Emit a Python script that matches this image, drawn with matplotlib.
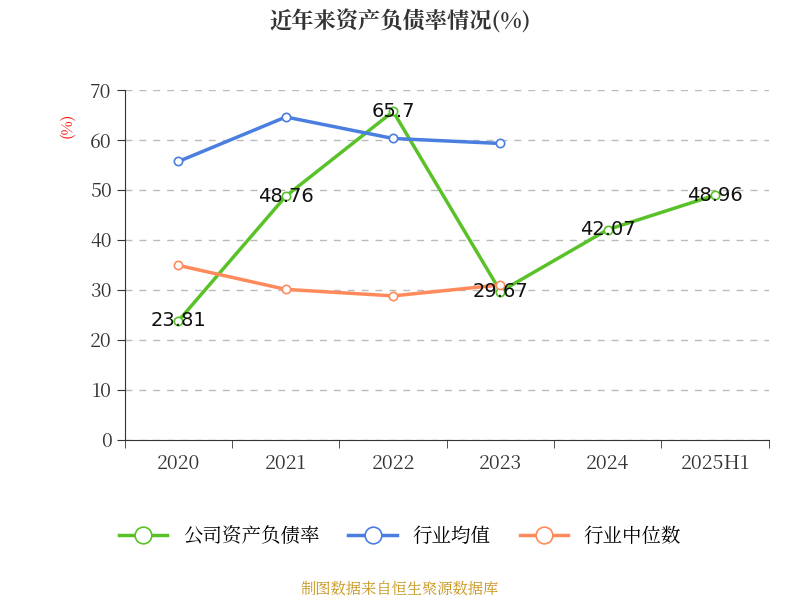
import glob
import numpy as np
import matplotlib
matplotlib.use("Agg")
import matplotlib.pyplot as plt
from matplotlib import font_manager as fm

# make sure a CJK font is registered
for path in glob.glob("/usr/share/fonts/**/*CJK*", recursive=True):
    try:
        fm.fontManager.addfont(path)
    except Exception:
        pass
cjk = [f.name for f in fm.fontManager.ttflist if "CJK" in f.name]
cjk_name = "Noto Sans CJK SC" if "Noto Sans CJK SC" in cjk else (cjk[0] if cjk else "DejaVu Sans")
plt.rcParams["font.family"] = "sans-serif"
plt.rcParams["font.sans-serif"] = [cjk_name, "DejaVu Sans"]

categories = ["2020", "2021", "2022", "2023", "2024", "2025H1"]
company = [23.81, 48.76, 65.7, 29.67, 42.07, 48.96]
industry_avg = [55.7, 64.6, 60.3, 59.3]
industry_median = [34.9, 30.1, 28.8, 31.0]

green = "#5ac229"
blue = "#4a7fe0"
orange = "#ff8a5b"

fig = plt.figure(figsize=(8, 6), dpi=100)
ax = fig.add_axes([0.156, 0.267, 0.805, 0.583])

x = np.arange(len(categories))
ax.plot(x, company, color=green, lw=2.5, marker="o", ms=6,
        mfc="white", mec=green, mew=1.2, label="公司资产负债率", zorder=3)
ax.plot(x[:len(industry_avg)], industry_avg, color=blue, lw=2.5, marker="o", ms=6,
        mfc="white", mec=blue, mew=1.2, label="行业均值", zorder=3)
ax.plot(x[:len(industry_median)], industry_median, color=orange, lw=2.5, marker="o", ms=6,
        mfc="white", mec=orange, mew=1.2, label="行业中位数", zorder=3)

for xi, v in zip(x, company):
    ax.text(xi, v, f"{v:g}", ha="center", va="center", fontsize=14,
            color="#111111", zorder=4, family="DejaVu Sans")

ax.set_xlim(-0.5, len(categories) - 0.5)
ax.set_ylim(0, 70)
ax.set_yticks(range(0, 71, 10))
ax.set_xticks(x)
ax.set_xticklabels(categories)
ax.set_xticks(np.arange(-0.5, len(categories), 1), minor=True)
ax.tick_params(axis="x", which="major", length=0, labelsize=14, colors="#333333", pad=10)
ax.tick_params(axis="x", which="minor", length=6, color="#333333")
ax.tick_params(axis="y", length=6, labelsize=14, colors="#333333")
ax.grid(axis="y", ls=(0, (5, 5)), color="#bbbbbb", lw=1)
for s in ["top", "right"]:
    ax.spines[s].set_visible(False)
ax.spines["left"].set_color("#333333")
ax.spines["bottom"].set_color("#333333")

ax.text(-0.09, 0.9, "(%)", transform=ax.transAxes, rotation=90,
        color="red", fontsize=11, ha="center", va="center")

fig.text(0.5, 0.962, "近年来资产负债率情况(%)", ha="center", va="center",
         fontsize=16, fontweight="bold", color="#333333")

fig.legend(loc="center", bbox_to_anchor=(0.5, 0.105), ncol=3, frameon=False,
           fontsize=14, handlelength=2.5, columnspacing=1.5, markerscale=2)

fig.text(0.5, 0.018, "制图数据来自恒生聚源数据库", ha="center", va="center",
         fontsize=11, color="#c8961e")

fig.savefig("out.png", dpi=100)
